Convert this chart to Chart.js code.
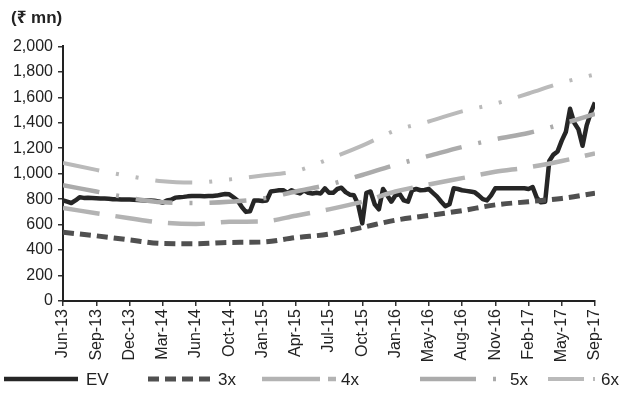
<!DOCTYPE html>
<html>
<head>
<meta charset="utf-8">
<script src="https://cdn.jsdelivr.net/npm/chart.js@4.4.1/dist/chart.umd.min.js"></script>
<style>
  html, body { margin: 0; padding: 0; background: #fff; }
</style>
</head>
<body>
<canvas id="evChart" width="639" height="412"></canvas>
<script>
// tick labels on the x axis (one per tick, irregular months as printed)
const tickLabels = ['Jun-13', 'Sep-13', 'Dec-13', 'Mar-14', 'Jun-14', 'Oct-14', 'Jan-15', 'Apr-15', 'Jul-15',
    'Oct-15', 'Jan-16', 'May-16', 'Aug-16', 'Nov-16', 'Feb-17', 'May-17', 'Sep-17'];

// EV: 8 readings between two ticks
const evPerTick = 8;
const evValues = [
    790, 780, 770, 790, 815, 810, 812, 810,
    808, 805, 805, 803, 800, 800, 798, 797,
    797, 795, 793, 792, 790, 790, 787, 782,
    772, 790, 795, 812, 815, 818, 822, 825,
    825, 825, 822, 825, 825, 828, 835, 840,
    838, 815, 790, 740, 700, 705, 790, 790,
    785, 790, 860, 865, 870, 870, 850, 870,
    855, 845, 870, 850, 845, 850, 845, 885,
    850, 850, 880, 890, 855, 835, 830, 760,
    610, 850, 860, 760, 720, 880, 830, 780,
    830, 840, 790, 780, 870, 880, 870, 872,
    880, 850, 820, 780, 745, 760, 885, 880,
    870, 865, 860, 855, 830, 800, 790, 830,
    885, 885, 885, 885, 885, 885, 885, 885,
    880, 895, 810, 775, 780, 1100, 1150, 1175,
    1260, 1330, 1510, 1400, 1350, 1220, 1380, 1480, 1560
];

// multiple bands, one reading at each tick
const band3x = [540, 512, 480, 452, 450, 460, 463, 498, 525, 578, 635, 672, 710, 755, 780, 806, 847];
const band4x = [730, 690, 650, 615, 605, 622, 625, 670, 720, 780, 860, 915, 965, 1015, 1050, 1100, 1160];
const band5x = [910, 860, 810, 775, 770, 780, 805, 860, 915, 990, 1070, 1140, 1210, 1270, 1320, 1390, 1470];
const band6x = [1085, 1030, 980, 940, 930, 955, 985, 1020, 1115, 1220, 1340, 1410, 1490, 1550, 1630, 1715, 1780];

const FONT = '"Liberation Sans", Arial, "Noto Sans", "DejaVu Sans", sans-serif';
Chart.defaults.font.family = FONT;
Chart.defaults.color = '#222';

function bandSet(label, values, color, width, dash) {
    return {
        label, data: values.map((v, i) => ({ x: i, y: v })),
        borderColor: color, borderWidth: width, borderDash: dash,
        pointRadius: 0, cubicInterpolationMode: 'monotone', fill: false, order: 0
    };
}

// legend drawn by hand so items sit where the printed ones do
const legendY = 379;
const legendPos = [
    { x0: 4, x1: 78, tx: 86, dash: [] },
    { x0: 148, x1: 210, tx: 218, dash: [11, 6] },
    { x0: 262, x1: 336, tx: 341, dash: [58, 8] },
    { x0: 420, x1: 497, tx: 510, dash: [56, 17, 3, 40] },
    { x0: 548, x1: 595, tx: 601, dash: [36, 9, 3, 40] }
];
const scanLegend = {
    id: 'scanLegend',
    afterDraw(chart) {
        const c = chart.ctx;
        chart.data.datasets.forEach((ds, i) => {
            const p = legendPos[i];
            c.save();
            c.strokeStyle = ds.borderColor;
            c.lineWidth = ds.borderWidth;
            c.setLineDash(p.dash);
            c.beginPath();
            c.moveTo(p.x0, legendY);
            c.lineTo(p.x1, legendY);
            c.stroke();
            c.setLineDash([]);
            c.fillStyle = '#222';
            c.font = '17px ' + FONT;
            c.textBaseline = 'middle';
            c.fillText(ds.label, p.tx, legendY + 1);
            c.restore();
        });
    }
};

const axisGrid = { display: true, drawOnChartArea: false, drawTicks: true, tickLength: 5, color: '#333', lineWidth: 1.5 };
const axisBorder = { display: true, color: '#222', width: 2 };

new Chart(document.getElementById('evChart').getContext('2d'), {
    type: 'line',
    data: {
        datasets: [
            {
                label: 'EV', data: evValues.map((v, i) => ({ x: i / evPerTick, y: v })),
                borderColor: '#262626', borderWidth: 4.5, pointRadius: 0, tension: 0,
                borderJoinStyle: 'round', fill: false, order: 5
            },
            bandSet('3x', band3x, '#505050', 5, [11, 6]),
            bandSet('4x', band4x, '#b3b3b3', 4.5, [37, 16]),
            bandSet('5x', band5x, '#ababab', 4.5, [37, 17, 3, 17]),
            bandSet('6x', band6x, '#bababa', 4, [37, 17, 3, 17, 3, 17])
        ]
    },
    options: {
        responsive: false,
        animation: false,
        devicePixelRatio: 1,
        layout: { padding: { left: 11, right: 44, top: 0, bottom: 49 } },
        plugins: {
            legend: { display: false },
            tooltip: { enabled: false },
            title: {
                display: true, text: '(₹ mn)', align: 'start', color: '#222',
                font: { size: 17, weight: 'bold' }, padding: { top: 8, bottom: 18 }
            }
        },
        scales: {
            x: {
                type: 'linear', min: 0, max: 16,
                afterFit: (s) => { s.height = 62; },
                grid: axisGrid, border: axisBorder,
                ticks: {
                    stepSize: 1, autoSkip: false, maxRotation: 90, minRotation: 90, padding: 3,
                    font: { size: 16 }, color: '#222',
                    callback: (v) => tickLabels[v] ?? ''
                }
            },
            y: {
                min: 0, max: 2000,
                afterFit: (s) => { s.width = 52; },
                grid: axisGrid, border: axisBorder,
                ticks: { stepSize: 200, padding: 5, font: { size: 16 }, color: '#222' }
            }
        }
    },
    plugins: [scanLegend]
});
</script>
</body>
</html>
